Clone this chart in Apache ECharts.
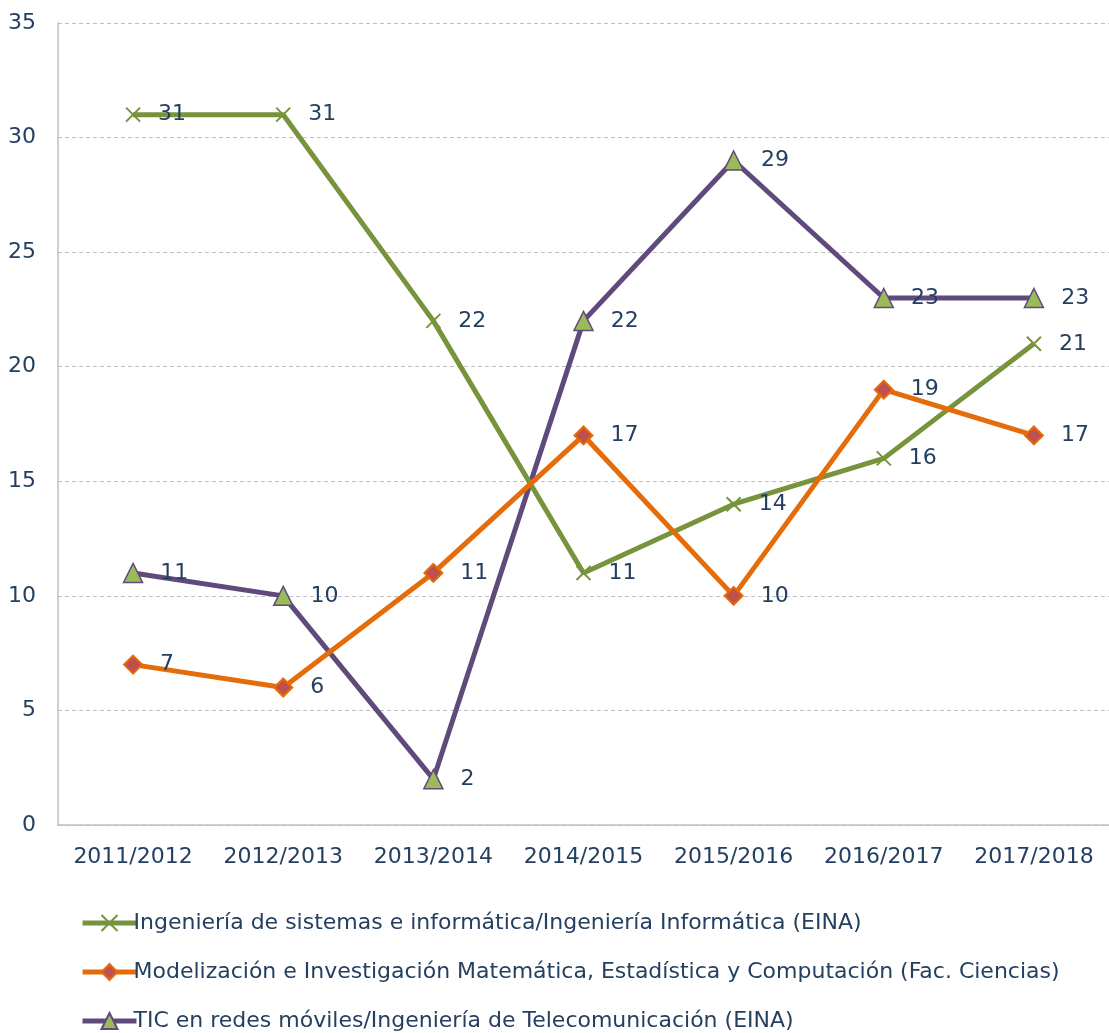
<!DOCTYPE html>
<html><head><meta charset="utf-8">
<script src="https://cdn.jsdelivr.net/npm/echarts@6/dist/echarts.min.js"></script>
<style>html,body{margin:0;padding:0;background:#fff}#c{width:1109px;height:1033px}</style>
</head><body><div id="c"></div>
<script>
const categories = ['2011/2012','2012/2013','2013/2014','2014/2015','2015/2016','2016/2017','2017/2018'];
const seriesNames = [
  'Ingeniería de sistemas e informática/Ingeniería Informática (EINA)',
  'Modelización e Investigación Matemática, Estadística y Computación (Fac. Ciencias)',
  'TIC en redes móviles/Ingeniería de Telecomunicación (EINA)'
];
const informatica = [31, 31, 22, 11, 14, 16, 21];
const matematicas = [7, 6, 11, 17, 10, 19, 17];
const telecom = [11, 10, 2, 22, 29, 23, 23];

const txt = '#243F60';
const font = 'DejaVu Sans, sans-serif';
const fs = 22;
const label = {show:true, position:'right', distance:17, color:txt, fontSize:fs, fontFamily:font};
const chart = echarts.init(document.getElementById('c'));
chart.setOption({
  animation:false,
  grid:{left:58, right:-9, top:23, bottom:208},
  xAxis:{type:'category', data:categories, boundaryGap:true,
    axisLine:{lineStyle:{color:'#BFBFBF', width:1.5}}, axisTick:{show:false},
    axisLabel:{color:txt, fontSize:fs, fontFamily:font, margin:21, interval:0}},
  yAxis:{type:'value', min:0, max:35, interval:5,
    axisLine:{show:true, lineStyle:{color:'#BFBFBF', width:1.5}}, axisTick:{show:false},
    axisLabel:{color:txt, fontSize:fs, fontFamily:font, margin:22}},
  legend:{orient:'vertical', left:75, top:907, height:130, itemGap:27, itemWidth:54, itemHeight:20,
    lineStyle:{width:5},
    textStyle:{color:txt, fontSize:fs, fontFamily:font, padding:[0,0,0,-8]}},
  series:[
    {name:seriesNames[0], type:'line', data:informatica, symbol:'path://M0,0L10,10M10,0L0,10', symbolSize:14,
      lineStyle:{color:'#77933C', width:5}, itemStyle:{color:'#77933C', borderColor:'#77933C', borderWidth:2},
      label:label, z:3},
    {name:seriesNames[1], type:'line', data:matematicas, symbol:'diamond', symbolSize:18,
      lineStyle:{color:'#E46C0A', width:5}, itemStyle:{color:'#C0504D', borderColor:'#E46C0A', borderWidth:2},
      label:label, z:4},
    {name:seriesNames[2], type:'line', data:telecom, symbol:'triangle', symbolSize:19,
      lineStyle:{color:'#604A7B', width:5}, itemStyle:{color:'#9BBB59', borderColor:'#604A7B', borderWidth:1.5},
      label:label, z:2}
  ]
});
chart.setOption({yAxis:{splitLine:{lineStyle:{color:'#BFBFBF', type:[4,3], width:1}}}});
</script></body></html>
